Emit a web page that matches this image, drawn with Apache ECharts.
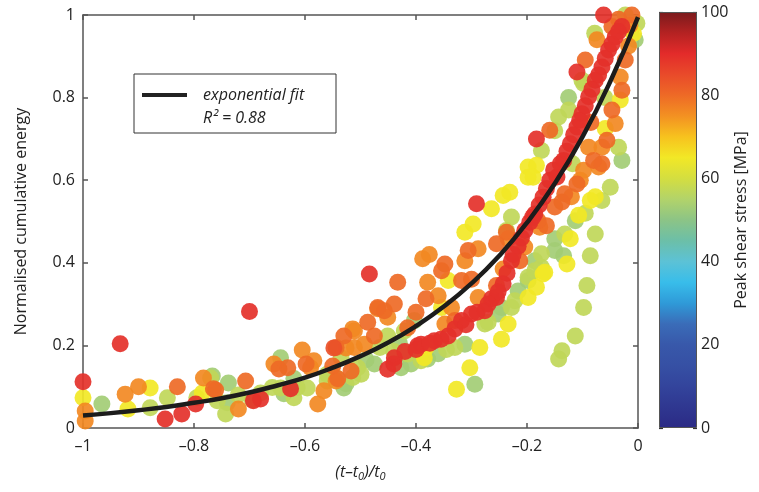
<!DOCTYPE html>
<html><head><meta charset="utf-8">
<script src="https://cdn.jsdelivr.net/npm/echarts@6/dist/echarts.min.js"></script>
<style>html,body{margin:0;padding:0;background:#fff}#c{width:759px;height:492px}</style>
</head><body><div id="c"></div>
<script>
// Scatter data: x = (t-t0)/t0, y = normalised cumulative energy, v = peak shear stress [MPa]
var pointX = [-1.00,-0.933,-0.700,-1.00,-0.996,-0.996,-0.966,-0.924,-0.900,-0.879,-0.919,-0.879,-0.848,-0.852,-0.822,-0.830,-0.797,-0.795,-0.783,-0.767,-0.761,-0.785,-0.740,-0.738,-0.720,-0.707,-0.693,-0.758,-0.680,-0.743,-0.765,-0.770,
-0.656,-0.644,-0.631,-0.626,-0.644,-0.620,-0.605,-0.590,-0.577,-0.566,-0.596,-0.560,-0.541,-0.530,-0.548,-0.530,-0.514,-0.517,-0.526,-0.535,-0.695,-0.659,-0.614,-0.638,-0.647,-0.598,-0.584,-0.544,-0.544,-0.526,-0.550,
-0.484,-0.433,-0.388,-0.376,-0.379,-0.382,-0.439,-0.457,-0.469,-0.487,-0.511,-0.544,-0.475,-0.493,-0.511,-0.451,-0.421,-0.403,-0.475,-0.499,-0.514,-0.451,-0.439,-0.397,-0.409,-0.391,-0.385,-0.415,-0.451,-0.469,-0.427,-0.505,-0.415,-0.382,-0.465,-0.430,
-0.291,-0.264,-0.243,-0.231,-0.312,-0.297,-0.198,-0.183,-0.228,-0.237,-0.237,-0.234,-0.255,-0.288,-0.306,-0.312,-0.348,-0.354,-0.318,-0.336,-0.348,-0.330,-0.342,-0.354,-0.288,-0.255,-0.243,-0.213,-0.204,-0.177,-0.165,-0.255,
-0.391,-0.367,-0.342,-0.318,-0.300,-0.276,-0.264,-0.243,-0.228,-0.204,-0.186,-0.171,-0.159,-0.420,-0.355,-0.330,-0.290,-0.252,-0.236,-0.216,-0.195,-0.178,-0.165,-0.152,
-0.276,-0.252,-0.228,-0.216,-0.198,-0.186,-0.174,-0.330,-0.312,-0.379,-0.234,-0.246,-0.285,-0.303,-0.327,-0.294,-0.198,-0.183,-0.171,-0.270,-0.246,-0.222,-0.198,-0.174,-0.150,-0.132,-0.113,-0.180,-0.150,
-0.062,-0.011,-0.023,-0.047,-0.074,-0.095,-0.110,-0.029,-0.041,-0.053,-0.065,-0.077,-0.089,-0.101,-0.110,-0.122,-0.134,-0.146,-0.183,-0.159,-0.143,-0.125,-0.098,-0.198,-0.189,
-0.017,-0.023,-0.032,-0.029,-0.047,-0.041,-0.056,-0.065,-0.089,-0.080,-0.098,-0.110,-0.071,-0.032,-0.059,-0.077,-0.002,-0.005,-0.035,-0.029,-0.050,
-0.086,-0.065,-0.107,-0.077,-0.122,-0.086,-0.128,-0.134,-0.092,-0.098,-0.113,-0.137,-0.143,-0.168,-0.137,-0.150,-0.186,-0.174,-0.150,-0.125,-0.101,-0.078,-0.132,-0.065,-0.104,-0.015,-0.035,-0.008,-0.060,-0.085,-0.118,-0.120,-0.095,
-0.360,-0.345,-0.440,-0.490,-0.560,-0.620,-0.680,-0.720,-0.400,-0.360,-0.300,
-0.440,-0.400,-0.375,-0.310,-0.270,-0.225,-0.210,-0.190,-0.140,-0.128,-0.116,-0.105,-0.095,-0.083,-0.071,-0.059,-0.047,-0.035];
var pointY = [0.112,0.204,0.282,0.073,0.041,0.017,0.058,0.082,0.100,0.097,0.046,0.049,0.073,0.022,0.034,0.100,0.058,0.073,0.121,0.126,0.092,0.085,0.061,0.109,0.046,0.114,0.066,0.066,0.070,0.034,0.095,0.121,
0.155,0.170,0.146,0.095,0.097,0.073,0.189,0.146,0.058,0.090,0.097,0.114,0.119,0.097,0.194,0.223,0.240,0.138,0.194,0.170,0.068,0.098,0.098,0.083,0.143,0.155,0.163,0.122,0.114,0.107,0.150,
0.373,0.353,0.410,0.420,0.353,0.313,0.300,0.284,0.289,0.256,0.235,0.195,0.223,0.203,0.195,0.223,0.235,0.260,0.155,0.130,0.122,0.142,0.170,0.199,0.155,0.163,0.170,0.243,0.268,0.292,0.146,0.146,0.179,0.195,0.195,0.205,
0.543,0.531,0.563,0.571,0.474,0.494,0.607,0.636,0.511,0.478,0.474,0.458,0.446,0.434,0.430,0.405,0.397,0.381,0.357,0.292,0.252,0.260,0.357,0.292,0.316,0.345,0.385,0.405,0.438,0.486,0.490,0.316,
0.203,0.211,0.223,0.260,0.276,0.284,0.313,0.349,0.405,0.478,0.518,0.559,0.600,0.185,0.215,0.240,0.280,0.330,0.375,0.440,0.498,0.540,0.580,0.625,
0.252,0.276,0.292,0.332,0.365,0.405,0.422,0.195,0.203,0.167,0.252,0.215,0.195,0.146,0.094,0.106,0.316,0.341,0.373,0.256,0.292,0.308,0.357,0.389,0.430,0.470,0.502,0.502,0.535,
1.000,1.000,1.000,0.972,0.940,0.891,0.862,0.972,0.947,0.915,0.874,0.842,0.802,0.761,0.729,0.688,0.648,0.608,0.700,0.721,0.753,0.800,0.834,0.632,0.607,
0.925,0.891,0.850,0.818,0.770,0.737,0.697,0.680,0.680,0.648,0.624,0.591,0.632,0.794,0.725,0.560,0.980,0.940,0.680,0.648,0.583,
0.551,0.551,0.515,0.470,0.458,0.417,0.397,0.417,0.345,0.292,0.223,0.187,0.167,0.377,0.547,0.458,0.381,0.672,0.720,0.770,0.842,0.956,0.567,0.640,0.600,0.975,0.990,0.955,0.800,0.740,0.640,0.560,0.520,
0.180,0.190,0.185,0.165,0.130,0.120,0.085,0.080,0.280,0.320,0.360,
0.155,0.190,0.205,0.250,0.300,0.420,0.460,0.510,0.640,0.670,0.710,0.745,0.780,0.820,0.855,0.895,0.930,0.960];
var pointStress = [89,89,89,65,76,76,53,76,76,65,65,57,57,89,89,80,89,57,76,53,80,65,53,53,76,80,89,57,89,57,80,57,
76,53,80,89,57,57,76,76,76,76,57,57,80,53,84,80,76,80,76,57,57,57,57,53,80,80,76,57,76,53,80,
89,80,76,76,76,80,80,80,76,80,76,80,80,76,76,57,57,53,53,57,57,89,89,89,53,57,65,80,76,80,53,57,57,65,57,53,
89,65,65,65,65,65,65,65,57,57,80,76,80,76,80,76,80,80,80,76,76,80,65,65,76,80,76,80,76,76,80,89,
89,89,89,89,89,89,89,89,89,89,89,89,89,89,89,89,89,89,89,89,89,89,89,89,
57,53,57,53,57,53,57,57,53,53,65,65,65,65,65,53,65,65,65,57,53,57,53,57,53,57,53,80,80,
89,80,57,80,76,80,89,89,89,89,89,89,89,89,89,89,89,89,89,80,57,53,57,65,65,
76,80,76,80,80,76,80,76,76,80,76,80,76,65,65,65,57,53,57,53,57,
65,57,65,57,65,57,65,53,57,57,57,57,57,65,80,53,57,57,57,57,57,57,80,80,76,76,80,65,57,80,57,76,57,
53,57,57,53,57,53,57,57,80,76,80,
89,89,89,89,89,89,89,89,89,89,89,89,89,89,89,89,89,89];

// Exponential fit curve
var fitX = [-1,-0.95,-0.9,-0.85,-0.8,-0.75,-0.7,-0.65,-0.6,-0.55,-0.5,-0.45,-0.4,-0.35,-0.3,-0.25,-0.2,-0.15,-0.1,-0.05,0];
var fitY = [0.030,0.036,0.043,0.051,0.061,0.072,0.086,0.103,0.122,0.146,0.174,0.207,0.247,0.294,0.350,0.417,0.497,0.592,0.705,0.839,0.995];

// Tick labels
var xTickLabels = ['\u20131','\u20130.8','\u20130.6','\u20130.4','\u20130.2','0'];
var yTickLabels = ['0','0.2','0.4','0.6','0.8','1'];
var cbTickLabels = ['0','20','40','60','80','100'];

// Colour map (0 .. 100 in steps of 5)
var cmap = ['#2b2a85','#2f3790','#33449c','#3650a4','#3858aa','#3a6cb8','#2f9ad8','#38bdea','#5cc2d6','#6cbfa8','#8cc486','#b2d36a','#d4de40','#f2e826','#f7c21e','#f39122','#ee6a26','#e94a2a','#e32b2a','#b42222','#7a1a1c'];

var pts = [];
for (var i = 0; i < pointX.length; i++) pts.push([pointX[i], pointY[i], pointStress[i]]);
pts.sort(function(a,b){return a[2]-b[2];});
var fit = fitX.map(function(x,i){return [x, fitY[i]];});

var stops = cmap.map(function(c,i){return {offset: 1 - i/(cmap.length-1), color: c};});

var FONT = 'Open Sans';
var axCol = '#555';
var chart = echarts.init(document.getElementById('c'), null, {renderer:'canvas'});
chart.setOption({
  animation: false,
  textStyle: {fontFamily: FONT},
  grid: [
    {left: 83, right: 121, top: 15, bottom: 64},
    {left: 659, width: 38, top: 12, height: 416}
  ],
  xAxis: [
    {type:'value', gridIndex:0, min:-1, max:0, interval:0.2, position:'bottom',
     axisLine:{show:true, onZero:false, lineStyle:{color:axCol, width:1.5}},
     axisTick:{show:true, inside:true, length:5, lineStyle:{color:axCol, width:1.5}},
     splitLine:{show:false},
     axisLabel:{color:'#222', fontSize:16, margin:10, fontFamily:FONT,
       formatter:function(v){return xTickLabels[Math.round((v+1)*5)];}},
     name:'{i|(t\u2013t}{s|0}{i|)/t}{s|0}', nameLocation:'middle', nameGap:34,
     nameTextStyle:{rich:{i:{fontSize:16, fontStyle:'italic', color:'#222', fontFamily:FONT},
                          s:{fontSize:11, fontStyle:'italic', color:'#222', fontFamily:FONT, padding:[9,0,0,0]}}}},
    {type:'value', gridIndex:0, min:-1, max:0, interval:0.2, position:'top',
     axisLine:{show:true, onZero:false, lineStyle:{color:axCol, width:1.5}},
     axisTick:{show:true, inside:true, length:5, lineStyle:{color:axCol, width:1.5}},
     splitLine:{show:false}, axisLabel:{show:false}},
    {type:'category', gridIndex:1, data:[''], show:false}
  ],
  yAxis: [
    {type:'value', gridIndex:0, min:0, max:1, interval:0.2, position:'left',
     axisLine:{show:true, onZero:false, lineStyle:{color:axCol, width:1.5}},
     axisTick:{show:true, inside:true, length:5, lineStyle:{color:axCol, width:1.5}},
     splitLine:{show:false},
     axisLabel:{color:'#222', fontSize:16, margin:8, fontFamily:FONT,
       formatter:function(v){return yTickLabels[Math.round(v*5)];}},
     name:'Normalised cumulative energy', nameLocation:'middle', nameRotate:90, nameGap:54,
     nameTextStyle:{fontSize:16, color:'#222', fontFamily:FONT}},
    {type:'value', gridIndex:0, min:0, max:1, interval:0.2, position:'right',
     axisLine:{show:true, onZero:false, lineStyle:{color:axCol, width:1.5}},
     axisTick:{show:true, inside:true, length:5, lineStyle:{color:axCol, width:1.5}},
     splitLine:{show:false}, axisLabel:{show:false}},
    {type:'value', gridIndex:1, min:0, max:100, interval:20, position:'right',
     axisLine:{show:false}, splitLine:{show:false},
     axisTick:{show:true, inside:true, length:4, lineStyle:{color:'#333', width:1.2}},
     axisLabel:{color:'#222', fontSize:16, margin:4, fontFamily:FONT,
       formatter:function(v){return cbTickLabels[Math.round(v/20)];}},
     name:'Peak shear stress [MPa]', nameLocation:'middle', nameRotate:90, nameGap:36,
     nameTextStyle:{fontSize:16, color:'#222', fontFamily:FONT}},
    {type:'value', gridIndex:1, min:0, max:100, interval:20, position:'left',
     axisLine:{show:false}, splitLine:{show:false}, axisLabel:{show:false},
     axisTick:{show:true, inside:true, length:4, lineStyle:{color:'#333', width:1.2}}}
  ],
  visualMap: {type:'continuous', show:false, min:0, max:100, dimension:2, seriesIndex:0, inRange:{color:cmap}},
  series: [
    {type:'scatter', xAxisIndex:0, yAxisIndex:0, data:pts, symbolSize:17, z:3,
     itemStyle:{opacity:0.92}},
    {type:'line', xAxisIndex:0, yAxisIndex:0, data:fit, smooth:true, showSymbol:false, symbol:'none', z:5,
     lineStyle:{color:'#1c1c1c', width:4.5}},
    {type:'bar', xAxisIndex:2, yAxisIndex:2, data:[100], barWidth:'100%', z:1,
     itemStyle:{color:new echarts.graphic.LinearGradient(0,0,0,1, stops), borderColor:'#555', borderWidth:1}}
  ],
  graphic: [
    {type:'rect', shape:{x:134, y:74, width:202, height:59}, style:{fill:'#fff', stroke:'#333', lineWidth:1}, z:10},
    {type:'line', shape:{x1:142, y1:95, x2:187, y2:95}, style:{stroke:'#222', lineWidth:4}, z:11},
    {type:'text', x:203, y:95, style:{text:'exponential fit', font:'italic 16px "Open Sans"', fill:'#222', textVerticalAlign:'middle'}, z:11},
    {type:'text', x:203, y:118, style:{text:'R\u00b2 = 0.88', font:'italic 16px "Open Sans"', fill:'#222', textVerticalAlign:'middle'}, z:11}
  ]
});
</script></body></html>
